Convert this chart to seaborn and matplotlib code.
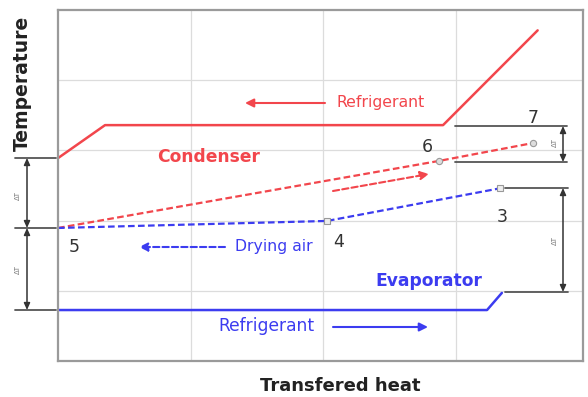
import matplotlib
matplotlib.use("Agg")
import matplotlib.pyplot as plt
import seaborn as sns
import pandas as pd
import numpy as np

# ---- data (schematic units: x = transferred heat, y = temperature) ----
cond_ref_x = [0.0, 0.355, 2.906, 3.62]
cond_ref_y = [2.89, 3.36, 3.36, 4.71]
air_cond_x = [0.0, 2.875, 3.585]
air_cond_y = [1.895, 2.85, 3.105]
air_evap_x = [0.0, 2.03, 3.336]
air_evap_y = [1.895, 1.995, 2.46]
evap_ref_x = [0.0, 3.238, 3.35]
evap_ref_y = [0.726, 0.726, 0.97]
point_labels = ["5", "4", "3", "6", "7"]

RED = "#f2464c"
BLUE = "#3c3cf0"
GRAY = "#555555"

sns.set_theme(style="white")
plt.rcParams["font.family"] = ["DejaVu Sans"]

W, H = 588, 397
fig = plt.figure(figsize=(W / 100, H / 100), dpi=100)
L, R, T, B = 58, 583, 10, 361
ax = fig.add_axes([L / W, 1 - B / H, (R - L) / W, (B - T) / H])
xmax = (R - L) / 132.5
ax.set_xlim(0, xmax)
ax.set_ylim(0, 5)

df_c = pd.DataFrame({"x": cond_ref_x, "y": cond_ref_y})
df_a1 = pd.DataFrame({"x": air_cond_x, "y": air_cond_y})
df_a2 = pd.DataFrame({"x": air_evap_x, "y": air_evap_y})
df_e = pd.DataFrame({"x": evap_ref_x, "y": evap_ref_y})

sns.lineplot(data=df_c, x="x", y="y", ax=ax, color=RED, lw=1.8, sort=False, estimator=None)
sns.lineplot(data=df_a1, x="x", y="y", ax=ax, color=RED, lw=1.6, sort=False, estimator=None,
             linestyle=(0, (3, 1.5)))
sns.lineplot(data=df_a2, x="x", y="y", ax=ax, color=BLUE, lw=1.6, sort=False, estimator=None,
             linestyle=(0, (3, 1.5)))
sns.lineplot(data=df_e, x="x", y="y", ax=ax, color=BLUE, lw=1.8, sort=False, estimator=None)

# state point markers
ax.plot(air_cond_x[1:], air_cond_y[1:], ls="none", marker="o", ms=4.5, mfc="#dddddd", mec="#999999", mew=0.8)
ax.plot(air_evap_x[1:], air_evap_y[1:], ls="none", marker="s", ms=4, mfc="#eeeeee", mec="#999999", mew=0.8)

ax.set_xticks([1, 2, 3])
ax.set_yticks([1, 2, 3, 4])
ax.grid(True, color="#dcdcdc", lw=0.9)
ax.tick_params(length=0, labelbottom=False, labelleft=False)
ax.set_xlabel("")
ax.set_ylabel("")
for s in ax.spines.values():
    s.set_color("#9a9a9a")
    s.set_linewidth(1.6)


def P(px, py):
    return (px / W, 1 - py / H)


ft = fig.transFigure

# axis titles
fig.text(*P(22, 83), "Temperature", rotation=90, ha="center", va="center",
         fontsize=13.5, fontweight="bold", color="#222222")
fig.text(*P(340, 386), "Transfered heat", ha="center", va="center",
         fontsize=13, fontweight="bold", color="#222222")

# labels inside
fig.text(*P(381, 103), "Refrigerant", ha="center", va="center", fontsize=11.3, color=RED)
fig.text(*P(209, 157), "Condenser", ha="center", va="center", fontsize=12.3, fontweight="bold", color=RED)
fig.text(*P(274, 246), "Drying air", ha="center", va="center", fontsize=11.3, color=BLUE)
fig.text(*P(429, 281), "Evaporator", ha="center", va="center", fontsize=12.3, fontweight="bold", color=BLUE)
fig.text(*P(266, 326), "Refrigerant", ha="center", va="center", fontsize=12.3, color=BLUE)

for lbl, (px, py) in zip(point_labels, [(74, 247), (339, 242), (502, 217), (427, 147), (533, 118)]):
    fig.text(*P(px, py), lbl, ha="center", va="center", fontsize=12.5, color="#333333")

# flow arrows
def arrow(p0, p1, color, ls="-"):
    fig.add_artist(matplotlib.patches.FancyArrowPatch(
        P(*p0), P(*p1), transform=ft, arrowstyle="-|>,head_length=5,head_width=2.5",
        mutation_scale=1, color=color, lw=1.5, linestyle=ls, shrinkA=0, shrinkB=0))

arrow((325, 103), (245, 103), RED)
arrow((333, 191), (429, 174), RED, ls=(0, (3, 1.5)))
arrow((225, 247), (139, 247), BLUE, ls=(0, (3, 1.5)))
arrow((333, 327), (428, 327), BLUE)

# dimension lines
def hline(x0, x1, y):
    fig.add_artist(matplotlib.lines.Line2D([x0 / W, x1 / W], [1 - y / H, 1 - y / H],
                                           transform=ft, color=GRAY, lw=1.3))

def dim(x, y0, y1):
    fig.add_artist(matplotlib.patches.FancyArrowPatch(
        P(x, y0), P(x, y1), transform=ft, arrowstyle="<|-|>,head_length=4,head_width=1.8",
        mutation_scale=1, color="#333333", lw=1.1, shrinkA=0, shrinkB=0))

hline(15, 56, 158)
hline(15, 56, 228)
hline(15, 56, 310)
dim(27, 158, 228)
dim(27, 228, 310)
fig.text(*P(18, 195), "ΔT", rotation=90, ha="center", va="center", fontsize=5, color="#777777")
fig.text(*P(18, 270), "ΔT", rotation=90, ha="center", va="center", fontsize=5, color="#777777")

hline(455, 567, 126)
hline(455, 567, 162)
dim(563, 126, 162)
hline(505, 568, 188)
hline(505, 568, 292)
dim(563, 188, 292)
fig.text(*P(555, 143), "ΔT", rotation=90, ha="center", va="center", fontsize=5, color="#777777")
fig.text(*P(555, 240), "ΔT", rotation=90, ha="center", va="center", fontsize=5, color="#777777")

fig.savefig("out.png", dpi=100)
